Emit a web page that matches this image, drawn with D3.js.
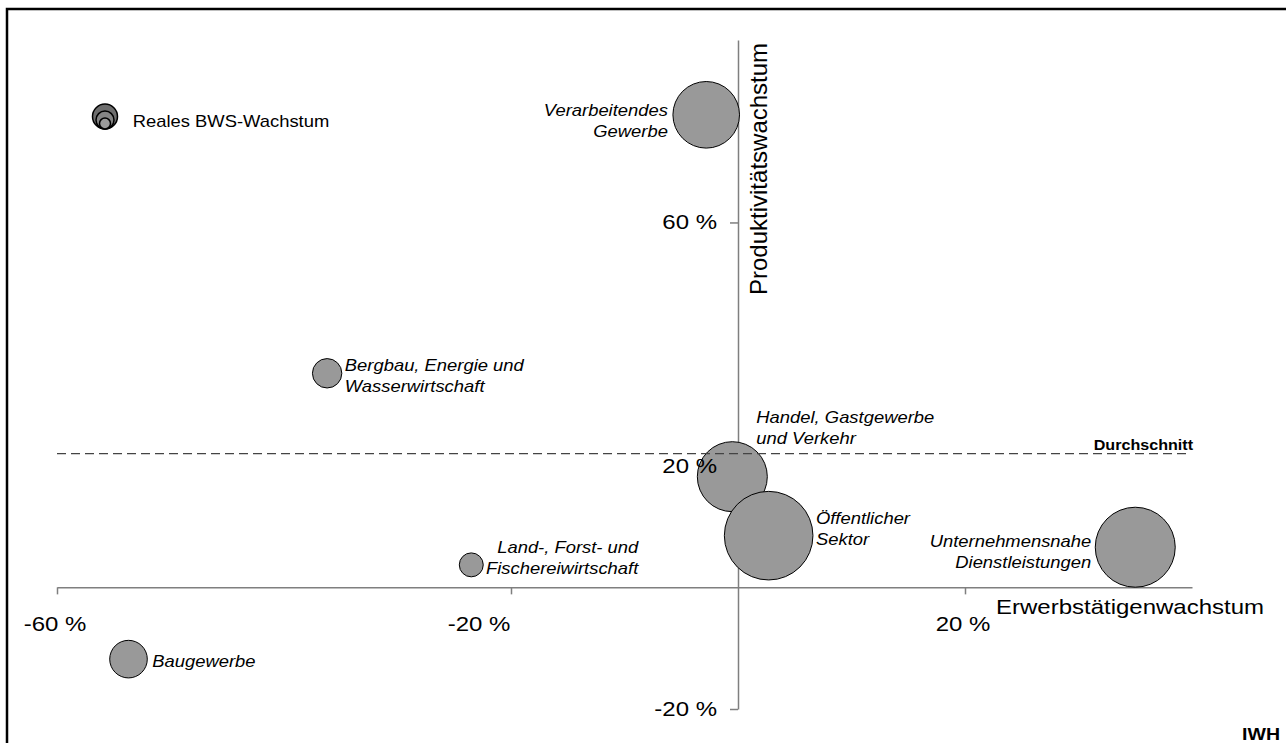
<!DOCTYPE html>
<html>
<head>
<meta charset="utf-8">
<script src="https://cdn.jsdelivr.net/npm/d3@7"></script>
<style>
  body { margin: 0; background: #fff; }
  svg { display: block; font-family: "Liberation Sans", Arial, sans-serif; }
</style>
</head>
<body>
<svg id="chart" width="1286" height="743"></svg>
<script>
// Sektoren (Zeilen des Labels)
var sektoren = [
  ["Verarbeitendes", "Gewerbe"],
  ["Handel, Gastgewerbe", "und Verkehr"],
  ["Öffentlicher", "Sektor"],
  ["Unternehmensnahe", "Dienstleistungen"],
  ["Bergbau, Energie und", "Wasserwirtschaft"],
  ["Land-, Forst- und", "Fischereiwirtschaft"],
  ["Baugewerbe"]
];
// Erwerbstätigenwachstum in %
var erwerbsWachstum = [-2.8, -0.5, 2.7, 35.0, -36.2, -23.5, -53.7];
// Produktivitätswachstum in %
var produktivWachstum = [77.7, 18.2, 8.5, 6.6, 35.2, 3.7, -11.8];
// Blasengröße (reales BWS, relativ)
var bwsGroesse = [56.5, 62.4, 100, 81.5, 11, 7.3, 18];
var durchschnitt = 22;
var xTicks = [-60, -20, 20];
var yTicks = [60, 20, -20];

var svg = d3.select("#chart");
var SX = 1.15, SXL = 1.2; // horizontal stretch of the original text

// label layout: anchor, offset from bubble centre (dx relative to edge)
var labelLayout = [
  {anchor: "end", side: -1, dx: 5, dy: 1},
  {anchor: "start", side: 0, dx: 24, dy: -53.5},
  {anchor: "start", side: 1, dx: 3, dy: -11.7},
  {anchor: "end", side: -1, dx: 4, dy: -0.6},
  {anchor: "start", side: 1, dx: 3, dy: -2},
  {anchor: "end", side: 0, dx: 167, dy: -11.7},
  {anchor: "start", side: 1, dx: 5, dy: 7.4}
];

var x = d3.scaleLinear().domain([-60, 40]).range([57, 1192]);
var y = d3.scaleLinear().domain([-20, 90]).range([709, 40]);
var r = d3.scaleSqrt().domain([0, 100]).range([0, 44.3]);

// Rahmen
svg.append("path")
  .attr("d", "M7,760V9H1300")
  .attr("fill", "none")
  .attr("stroke", "#000")
  .attr("stroke-width", 2.5);

var axisLayer = svg.append("g");
var bubbleLayer = svg.append("g");
var topLayer = svg.append("g");

// Achsenlinien
var gx = axisLayer.append("g")
  .attr("transform", "translate(0," + y(0) + ")")
  .call(d3.axisBottom(x).tickValues(xTicks).tickSize(7).tickSizeOuter(0).tickFormat(""));
var gy = axisLayer.append("g")
  .attr("transform", "translate(" + x(0) + ",0)")
  .call(d3.axisLeft(y).tickValues(yTicks).tickSize(8).tickSizeOuter(0).tickFormat(""));
axisLayer.selectAll(".domain, .tick line")
  .attr("stroke", "#7f7f7f")
  .attr("stroke-width", 1.5);

// Blasen
var data = sektoren.map(function (s, i) {
  return {name: s, ex: erwerbsWachstum[i], py: produktivWachstum[i], size: bwsGroesse[i], lay: labelLayout[i]};
});

bubbleLayer.selectAll("circle")
  .data(data)
  .enter()
  .append("circle")
  .attr("cx", function (d) { return x(d.ex); })
  .attr("cy", function (d) { return y(d.py); })
  .attr("r", function (d) { return r(d.size); })
  .attr("fill", "#999999")
  .attr("stroke", "#000")
  .attr("stroke-width", 1);

// Labels
data.forEach(function (d) {
  var cx = x(d.ex), cy = y(d.py), rad = r(d.size);
  var lx = cx + d.lay.side * (rad + d.lay.dx) + (d.lay.side === 0 ? d.lay.dx : 0);
  var g = topLayer.append("g")
    .attr("transform", "translate(" + lx + "," + (cy + d.lay.dy) + ") scale(" + SX + ",1)");
  d.name.forEach(function (line, j) {
    g.append("text")
      .attr("y", j * 21)
      .attr("text-anchor", d.lay.anchor)
      .attr("font-size", 16)
      .attr("font-style", "italic")
      .text(line);
  });
});

// Durchschnitt
topLayer.append("line")
  .attr("x1", x(-60))
  .attr("x2", x(40) - 6)
  .attr("y1", y(durchschnitt))
  .attr("y2", y(durchschnitt))
  .attr("stroke", "#444")
  .attr("stroke-width", 1.2)
  .attr("stroke-dasharray", "9,5");
topLayer.append("text")
  .attr("transform", "translate(" + (x(40) + 1) + "," + (y(durchschnitt) - 4) + ") scale(" + SX + ",1)")
  .attr("text-anchor", "end")
  .attr("font-size", 14)
  .attr("font-weight", "bold")
  .text("Durchschnitt");

// Tick labels (über den Blasen)
topLayer.selectAll(".xlab")
  .data(xTicks)
  .enter()
  .append("text")
  .attr("class", "xlab")
  .attr("transform", function (d) {
    return "translate(" + (x(d) + (d === -20 ? -32 : -2)) + "," + (y(0) + 44) + ") scale(" + SXL + ",1)";
  })
  .attr("text-anchor", "middle")
  .attr("font-size", 20)
  .text(function (d) { return d + " %"; });

topLayer.selectAll(".ylab")
  .data(yTicks)
  .enter()
  .append("text")
  .attr("class", "ylab")
  .attr("transform", function (d) {
    return "translate(" + (x(0) - 21) + "," + (y(d) + 7) + ") scale(" + SXL + ",1)";
  })
  .attr("text-anchor", "end")
  .attr("font-size", 20)
  .text(function (d) { return d + " %"; });

// Achsentitel
topLayer.append("text")
  .attr("transform", "translate(996,614) scale(" + SXL + ",1)")
  .attr("font-size", 20)
  .text("Erwerbstätigenwachstum");
topLayer.append("text")
  .attr("transform", "translate(766.5,295) rotate(-90)")
  .attr("font-size", 24)
  .text("Produktivitätswachstum");

// Legende
var leg = topLayer.append("g").attr("transform", "translate(105,129)");
[[12.5, "#6e6e6e"], [9, "#858585"], [5.5, "#9a9a9a"]].forEach(function (c) {
  leg.append("circle")
    .attr("cx", 0)
    .attr("cy", -c[0])
    .attr("r", c[0])
    .attr("fill", c[1])
    .attr("stroke", "#000")
    .attr("stroke-width", 1.5);
});
topLayer.append("text")
  .attr("transform", "translate(132.7,126.7) scale(" + SX + ",1)")
  .attr("font-size", 16)
  .text("Reales BWS-Wachstum");

// Quelle
topLayer.append("text")
  .attr("transform", "translate(1280,740) scale(" + SX + ",1)")
  .attr("text-anchor", "end")
  .attr("font-size", 17)
  .attr("font-weight", "bold")
  .text("IWH");
</script>
</body>
</html>
